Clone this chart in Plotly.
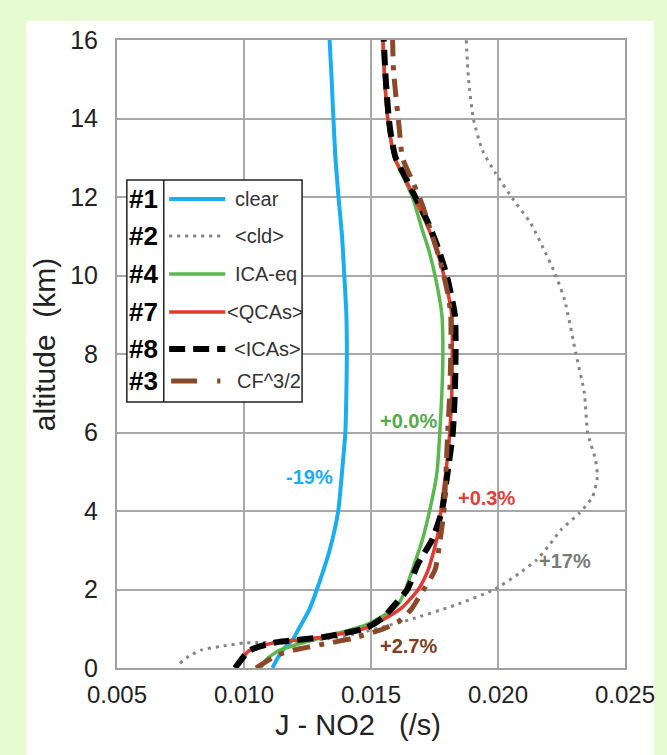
import plotly.graph_objects as go

# Altitude grids (km) and J-NO2 photolysis rates (1/s) for each case
alt_clear = [0, 0.25, 0.5, 0.71, 1.0, 1.5, 2.0, 3.0, 4.0, 5.0, 6.0, 7.0, 8.0, 9.0, 10.0, 11.0, 12.0, 13.0, 14.0, 15.0, 16.0]
j_clear = [0.01112, 0.01132, 0.01158, 0.0119, 0.01216, 0.01258, 0.01287, 0.01337, 0.01371, 0.01386, 0.01399,
           0.01403, 0.01405, 0.01403, 0.01395, 0.01386, 0.01372, 0.0136, 0.01352, 0.01345, 0.01337]

alt_cld = [0.12, 0.3, 0.46, 0.55, 0.64, 0.66, 0.75, 0.89, 1.02, 1.22, 1.6, 2.0, 2.4, 2.75, 3.1, 3.52, 3.95,
           4.36, 4.87, 5.3, 6.0, 7.0, 8.0, 9.38, 10.06, 10.7, 11.34, 11.92, 12.6, 13.2, 14.0, 15.0, 16.0]
j_cld = [0.00748, 0.00783, 0.00833, 0.00907, 0.01004, 0.01182, 0.01337, 0.01453, 0.01531, 0.01647, 0.0183,
         0.01985, 0.02081, 0.02151, 0.02198, 0.02248, 0.02321, 0.02372, 0.02391, 0.02384, 0.02353, 0.0234,
         0.02307, 0.02262, 0.02224, 0.02178, 0.02128, 0.02062, 0.01991, 0.01938, 0.01903, 0.01884, 0.01875]

alt_icaeq = [0, 0.25, 0.46, 0.6, 0.79, 1.1, 1.4, 1.64, 2.0, 2.5, 3.26, 4.28, 5.0, 6.0, 7.0, 8.0, 9.0, 10.0,
             10.7, 11.16, 12.0, 12.5, 13.0, 14.0, 15.0, 16.0]
j_icaeq = [0.01066, 0.01093, 0.01143, 0.01209, 0.01314, 0.01481, 0.01566, 0.01609, 0.01636, 0.01663, 0.01702,
           0.0174, 0.0176, 0.01771, 0.01779, 0.01783, 0.01779, 0.01752, 0.01725, 0.01702, 0.01663, 0.01628,
           0.01593, 0.01566, 0.01554, 0.01547]

alt_qcas = [0, 0.2, 0.42, 0.55, 0.66, 0.79, 1.02, 1.3, 1.55, 2.0, 2.5, 3.0, 3.44, 4.0, 5.0, 6.0, 7.0, 8.0, 9.0,
            10.0, 10.7, 11.34, 12.0, 12.5, 13.0, 14.0, 15.0, 16.0]
j_qcas = [0.00965, 0.00988, 0.01016, 0.01062, 0.01132, 0.01314, 0.01481, 0.01566, 0.01624, 0.01686, 0.01725,
          0.01748, 0.01764, 0.01775, 0.01795, 0.0181, 0.01818, 0.0182, 0.01818, 0.01787, 0.01756, 0.01717,
          0.0167, 0.01632, 0.01593, 0.01566, 0.01554, 0.01547]

alt_icas = [0, 0.2, 0.42, 0.55, 0.66, 0.79, 1.02, 1.3, 1.64, 2.0, 2.67, 3.26, 4.0, 5.0, 6.0, 7.0, 8.0, 9.0,
            10.0, 10.7, 11.34, 12.0, 12.5, 13.0, 13.6, 14.0, 15.0, 16.0]
j_icas = [0.00965, 0.00988, 0.01016, 0.01062, 0.01132, 0.01314, 0.01481, 0.0155, 0.01597, 0.01643, 0.01686,
          0.0174, 0.01779, 0.01802, 0.01822, 0.0183, 0.01833, 0.0183, 0.01798, 0.01764, 0.01725, 0.01674,
          0.01636, 0.01597, 0.01578, 0.0157, 0.01558, 0.0155]

alt_cf = [0, 0.33, 0.46, 0.66, 0.76, 1.0, 1.22, 1.5, 1.86, 2.5, 3.2, 4.0, 5.0, 6.0, 7.0, 8.0, 9.0, 9.55, 10.4,
          11.34, 11.8, 12.35, 13.0, 13.7, 15.2, 16.0]
j_cf = [0.01047, 0.01132, 0.01198, 0.01353, 0.0143, 0.0155, 0.01616, 0.01659, 0.01694, 0.01752, 0.01771,
        0.01787, 0.01795, 0.01802, 0.0181, 0.01814, 0.01814, 0.01802, 0.01771, 0.01725, 0.01702, 0.01667,
        0.01624, 0.01612, 0.01589, 0.01585]

# Legend rows: case number, label
case_ids = ["#1", "#2", "#4", "#7", "#8", "#3"]
case_names = ["clear", "<cld>", "ICA-eq", "<QCAs>", "<ICAs>", "CF^3/2"]

# Percent differences in column-integrated J relative to the reference case
pct_labels = ["-19%", "+0.0%", "+0.3%", "+17%", "+2.7%"]
pct_x = [0.01256, 0.01647, 0.01953, 0.02264, 0.01647]
pct_y = [4.87, 6.29, 4.33, 2.73, 0.56]

x_ticks = [0.005, 0.010, 0.015, 0.020, 0.025]
y_ticks = [0, 2, 4, 6, 8, 10, 12, 14, 16]

C_BLUE = "#1aaef0"
C_GRAY = "#858585"
C_GREEN = "#5cb74f"
C_RED = "#e23a30"
C_BLACK = "#000000"
C_BROWN = "#8a4a2a"
pct_colors = [C_BLUE, "#55a94a", "#e0403a", "#7a7a7a", "#7d3f22"]

FONT = "Liberation Sans, Arial, sans-serif"

W, H = 667, 755
L, R, T, B = 117, 34, 40, 87
PW, PH = W - L - R, H - T - B


def px(x):
    return (x - L) / PW


def py(y):
    return (H - B - y) / PH


fig = go.Figure()

series = [
    (j_clear, alt_clear, C_BLUE, 4, "solid"),
    (j_cld, alt_cld, C_GRAY, 3, "3px,5px"),
    (j_icaeq, alt_icaeq, C_GREEN, 3.5, "solid"),
    (j_qcas, alt_qcas, C_RED, 3.5, "solid"),
    (j_icas, alt_icas, C_BLACK, 6, "16px,8px"),
    (j_cf, alt_cf, C_BROWN, 5, "18px,9px,5px,9px"),
]
for (xs, ys, col, w, dash), name in zip(series, case_names):
    fig.add_trace(go.Scatter(
        x=xs, y=ys, mode="lines", name=name, showlegend=False,
        line=dict(color=col, width=w, dash=dash, shape="spline", smoothing=0.6),
    ))

for txt, x, y, col in zip(pct_labels, pct_x, pct_y, pct_colors):
    fig.add_annotation(x=x, y=y, text=f"<b>{txt}</b>", showarrow=False,
                       font=dict(family=FONT, size=20, color=col),
                       xanchor="center", yanchor="middle")

shapes = []
# white page panel behind the axes
shapes.append(dict(type="rect", xref="paper", yref="paper", layer="below",
                   x0=px(25), x1=px(662), y0=py(765), y1=py(21),
                   fillcolor="white", line=dict(width=0)))

# legend box with a column of case numbers
shapes.append(dict(type="rect", xref="paper", yref="paper",
                   x0=px(127), x1=px(305), y0=py(402), y1=py(180),
                   fillcolor="white", line=dict(color="#222", width=1.5)))
shapes.append(dict(type="line", xref="paper", yref="paper",
                   x0=px(164.5), x1=px(164.5), y0=py(402), y1=py(180),
                   line=dict(color="#222", width=1.5)))

row_y = [199, 236, 274, 312, 349, 381]
sample_x = [(170, 227), (170, 225), (170, 227), (170, 227), (170, 227), (172, 222)]
legend_dash = ["solid", "3px,5px", "solid", "solid", "16px,8px", "26px,20px,5px,9px"]
label_x = [235, 235, 235, 227, 234, 237]
for i, (col, w) in enumerate([(s[2], s[3]) for s in series]):
    x0, x1 = sample_x[i]
    shapes.append(dict(type="line", xref="paper", yref="paper",
                       x0=px(x0), x1=px(x1), y0=py(row_y[i]), y1=py(row_y[i]),
                       line=dict(color=col, width=w, dash=legend_dash[i])))
    fig.add_annotation(xref="paper", yref="paper", x=px(label_x[i]), y=py(row_y[i]),
                       text=case_names[i].replace("<", "&lt;").replace(">", "&gt;"),
                       showarrow=False, xanchor="left", yanchor="middle",
                       font=dict(family=FONT, size=20, color="#333"))
    fig.add_annotation(xref="paper", yref="paper", x=px(144), y=py(row_y[i]),
                       text=f"<b>{case_ids[i]}</b>", showarrow=False,
                       xanchor="center", yanchor="middle",
                       font=dict(family=FONT, size=26, color="#000"))

# axis titles
fig.add_annotation(xref="paper", yref="paper", x=px(362), y=py(725),
                   text="J - NO2 &nbsp; (/s)", showarrow=False,
                   xanchor="center", yanchor="middle",
                   font=dict(family=FONT, size=29, color="#222"))
fig.add_annotation(xref="paper", yref="paper", x=px(44), y=py(345),
                   text="altitude &nbsp;(km)", showarrow=False, textangle=-90,
                   xanchor="center", yanchor="middle",
                   font=dict(family=FONT, size=30, color="#222"))

fig.update_layout(
    width=W, height=H,
    margin=dict(l=L, r=R, t=T, b=B),
    paper_bgcolor="#e6fbd2",
    plot_bgcolor="white",
    shapes=shapes,
    xaxis=dict(range=[0.005, 0.025], tickvals=x_ticks, tickformat=".3f",
               showgrid=True, gridcolor="#a8a8a8", gridwidth=2,
               showline=True, linecolor="#a0a0a0", linewidth=2, mirror=True,
               zeroline=False, ticks="", ticklabelstandoff=4,
               tickfont=dict(family=FONT, size=24, color="#222")),
    yaxis=dict(range=[0, 16], tickvals=y_ticks,
               showgrid=True, gridcolor="#a8a8a8", gridwidth=2,
               showline=True, linecolor="#a0a0a0", linewidth=2, mirror=True,
               zeroline=False, ticks="", ticklabelstandoff=12,
               tickfont=dict(family=FONT, size=25, color="#222")),
)

fig.write_html("out.html")
